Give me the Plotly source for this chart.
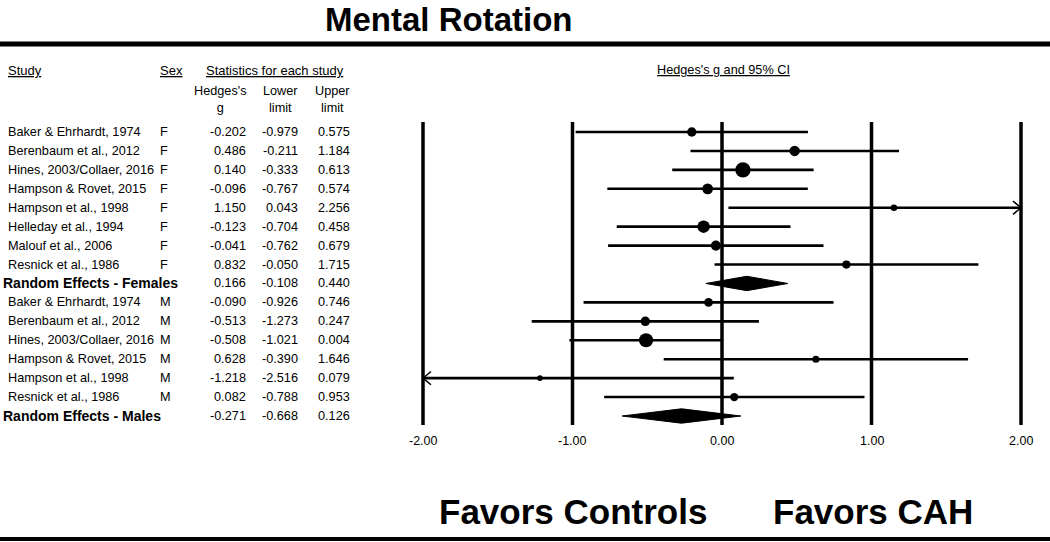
import pandas as pd
import plotly.graph_objects as go

# data
studies_f = ["Baker & Ehrhardt, 1974", "Berenbaum et al., 2012", "Hines, 2003/Collaer, 2016",
             "Hampson & Rovet, 2015", "Hampson et al., 1998", "Helleday et al., 1994",
             "Malouf et al., 2006", "Resnick et al., 1986"]
g_f = [-0.202, 0.486, 0.140, -0.096, 1.150, -0.123, -0.041, 0.832]
lo_f = [-0.979, -0.211, -0.333, -0.767, 0.043, -0.704, -0.762, -0.050]
hi_f = [0.575, 1.184, 0.613, 0.574, 2.256, 0.458, 0.679, 1.715]
re_f = [0.166, -0.108, 0.440]

studies_m = ["Baker & Ehrhardt, 1974", "Berenbaum et al., 2012", "Hines, 2003/Collaer, 2016",
             "Hampson & Rovet, 2015", "Hampson et al., 1998", "Resnick et al., 1986"]
g_m = [-0.090, -0.513, -0.508, 0.628, -1.218, 0.082]
lo_m = [-0.926, -1.273, -1.021, -0.390, -2.516, -0.788]
hi_m = [0.746, 0.247, 0.004, 1.646, 0.079, 0.953]
re_m = [-0.271, -0.668, 0.126]

ticks = [-2, -1, 0, 1, 2]
tick_labels = ["-2.00", "-1.00", "0.00", "1.00", "2.00"]

rows = []
for s, g, l, h in zip(studies_f, g_f, lo_f, hi_f):
    rows.append(dict(label=s, sex="F", g=g, lo=l, hi=h, summary=False))
rows.append(dict(label="Random Effects - Females", sex="", g=re_f[0], lo=re_f[1], hi=re_f[2], summary=True))
for s, g, l, h in zip(studies_m, g_m, lo_m, hi_m):
    rows.append(dict(label=s, sex="M", g=g, lo=l, hi=h, summary=False))
rows.append(dict(label="Random Effects - Males", sex="", g=re_m[0], lo=re_m[1], hi=re_m[2], summary=True))
df = pd.DataFrame(rows)
df["row"] = range(len(df))

W, H = 1050, 542
XMIN, XMAX = -2, 2
# pixel mapping of the plot
PX_LEFT, PX_RIGHT = 423, 1021
ROW0_PX, ROWN_PX = 132, 416
unit = (PX_RIGHT - PX_LEFT) / (XMAX - XMIN)
x0_data = XMIN - PX_LEFT / unit
x1_data = XMAX + (W - PX_RIGHT) / unit
rstep = (ROWN_PX - ROW0_PX) / (len(df) - 1)
y_top = -ROW0_PX / rstep
y_bot = (H - ROW0_PX) / rstep


def px(x):
    return x / W


def py(y):
    return 1 - y / H


BODY = "Arial, Liberation Sans, sans-serif"
NARROW = "Liberation Sans Narrow, Arial Narrow, Liberation Sans, Arial, sans-serif"

fig = go.Figure()

# confidence intervals (clipped at the axis limits)
studies = df[~df.summary]
for _, r in studies.iterrows():
    lo, hi = max(r.lo, XMIN), min(r.hi, XMAX)
    fig.add_trace(go.Scatter(x=[lo, hi], y=[r.row, r.row], mode="lines",
                             line=dict(color="black", width=2.6), hoverinfo="skip"))
    dx = 8 / unit
    if r.hi > XMAX:
        fig.add_trace(go.Scatter(x=[XMAX - dx, XMAX, XMAX - dx], y=[r.row - 0.35, r.row, r.row + 0.35],
                                 mode="lines", line=dict(color="black", width=1.5), hoverinfo="skip"))
    if r.lo < XMIN:
        fig.add_trace(go.Scatter(x=[XMIN + dx, XMIN, XMIN + dx], y=[r.row - 0.35, r.row, r.row + 0.35],
                                 mode="lines", line=dict(color="black", width=1.5), hoverinfo="skip"))

# point estimates, size by precision
sizes = 14.5 / (studies.hi - studies.lo)
fig.add_trace(go.Scatter(x=studies.g, y=studies.row, mode="markers",
                         marker=dict(color="black", size=sizes, opacity=1, line=dict(width=0)),
                         hoverinfo="skip"))

# summary diamonds
for _, r in df[df.summary].iterrows():
    h = 0.38
    fig.add_trace(go.Scatter(x=[r.lo, r.g, r.hi, r.g, r.lo],
                             y=[r.row, r.row - h, r.row, r.row + h, r.row],
                             mode="lines", fill="toself", fillcolor="black",
                             line=dict(color="black", width=1), hoverinfo="skip"))

shapes = []
for t in ticks:
    shapes.append(dict(type="line", xref="x", yref="paper", x0=t, x1=t,
                       y0=py(122), y1=py(425), line=dict(color="black", width=3.5)))
shapes.append(dict(type="line", xref="paper", yref="paper", x0=0, x1=1, y0=py(44), y1=py(44),
                   line=dict(color="black", width=5)))
shapes.append(dict(type="line", xref="paper", yref="paper", x0=0, x1=1, y0=py(539), y1=py(539),
                   line=dict(color="black", width=4)))

ann = []


def text(x, y, s, size=12, family=BODY, anchor="left", yref="paper"):
    ann.append(dict(x=x, y=y, xref="paper", yref=yref, text=s, showarrow=False,
                    xanchor=anchor, yanchor="middle", align="center",
                    font=dict(size=size, family=family, color="black")))


text(px(448), py(19.5), "<b>Mental Rotation</b>", size=33, family=NARROW, anchor="center")
text(px(6), py(70), "<u>Study</u>", size=13, family=NARROW)
text(px(158), py(70), "<u>Sex</u>", size=13, family=NARROW)
text(px(204), py(70), "<u>Statistics for each study</u>", size=13, family=NARROW)
text(px(723), py(70), "<u>Hedges's g and 95% CI</u>", size=12.7, family=NARROW, anchor="center")
text(px(220), py(100), "Hedges's<br>g", size=12.7, anchor="center")
text(px(280), py(100), "Lower<br>limit", size=12.7, anchor="center")
text(px(333), py(100), "Upper<br>limit", size=12.7, anchor="center")

for _, r in df.iterrows():
    if r.summary:
        text(px(1), r.row, "<b>" + r.label + "</b>", size=14, yref="y")
    else:
        text(px(6), r.row, r.label, size=12.7, yref="y")
        text(px(158), r.row, r.sex, size=12.7, yref="y")
    text(px(248), r.row, f"{r.g:.3f}", size=12.7, anchor="right", yref="y")
    text(px(300), r.row, f"{r.lo:.3f}", size=12.7, anchor="right", yref="y")
    text(px(352), r.row, f"{r.hi:.3f}", size=12.7, anchor="right", yref="y")

for t, lab in zip(ticks, tick_labels):
    ann.append(dict(x=t, y=py(441), xref="x", yref="paper", text=lab, showarrow=False,
                    xanchor="center", yanchor="middle",
                    font=dict(size=12.5, family=NARROW, color="black")))

text(px(573), py(511), "<b>Favors Controls</b>", size=35, family=NARROW, anchor="center")
text(px(873), py(511), "<b>Favors CAH</b>", size=35, family=NARROW, anchor="center")

fig.update_layout(
    width=W, height=H, margin=dict(l=0, r=0, t=0, b=0),
    plot_bgcolor="white", paper_bgcolor="white", showlegend=False,
    xaxis=dict(range=[x0_data, x1_data], visible=False, fixedrange=True),
    yaxis=dict(range=[y_bot, y_top], visible=False, fixedrange=True),
    shapes=shapes, annotations=ann,
)

fig.write_html("out.html", config={"displayModeBar": False},
               post_script="document.body.style.margin='0';document.body.style.overflow='hidden';")
